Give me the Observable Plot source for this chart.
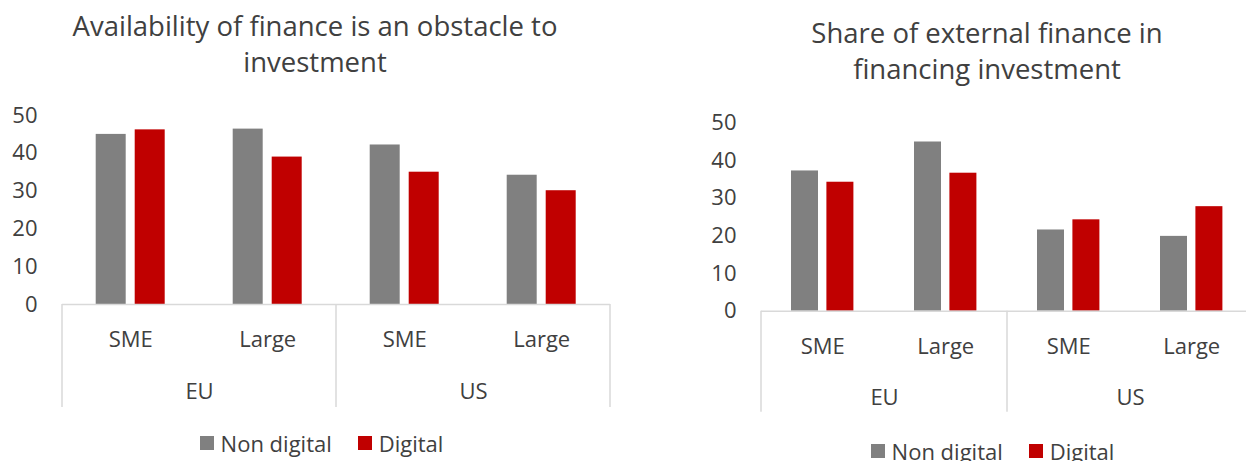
<!DOCTYPE html>
<html>
<head>
<meta charset="utf-8">
<script src="https://cdn.jsdelivr.net/npm/d3@7"></script>
<script src="https://cdn.jsdelivr.net/npm/@observablehq/plot@0.6"></script>
<style>
  html, body { margin: 0; padding: 0; background: #fff; overflow: hidden; width: 1246px; height: 461px; }
  body { position: relative; font-family: "Open Sans", sans-serif; color: #404040; }
  .title { position: absolute; text-align: center; font-size: 27.5px; line-height: 36px; color: #404040; }
  .chart { position: absolute; top: 90px; height: 330px; }
  .chart svg { display: block; max-width: none !important; }
  .legend { position: absolute; display: flex; justify-content: center; align-items: center; font-size: 22px; height: 30px; white-space: nowrap; }
  .legend .item { display: flex; align-items: center; }
  .legend .sw { width: 14px; height: 14px; margin-right: 7px; }
  .legend .item + .item { margin-left: 26px; }
</style>
</head>
<body>
<div class="title" id="t1" style="left:0px; top:8px; width:630px;"></div>
<div class="title" id="t2" style="left:687px; top:15px; width:600px;"></div>
<div class="chart" id="c1" style="left:0px; width:623px;"></div>
<div class="chart" id="c2" style="left:680px; width:574px;"></div>
<div class="legend" id="l1" style="left:0px; top:428px; width:643px;"></div>
<div class="legend" id="l2" style="left:680px; top:436px; width:625px;"></div>
<script>
// ---- data ----
const regions = ["EU", "US"];
const sizes = ["SME", "Large"];
const seriesNames = ["Non digital", "Digital"];
const seriesColors = ["#808080", "#C00000"];
const yTicks = [0, 10, 20, 30, 40, 50];

const title1Lines = ["Availability of finance is an obstacle to", "investment"];
const title2Lines = ["Share of external finance in", "financing investment"];

// order: EU SME, EU Large, US SME, US Large
const obstacleNonDigital = [45.0, 46.4, 42.2, 34.2];
const obstacleDigital    = [46.2, 39.0, 35.0, 30.1];
const externalNonDigital = [37.3, 45.0, 21.6, 19.9];
const externalDigital    = [34.3, 36.7, 24.3, 27.8];

function rows(nonDigital, digital) {
  const out = [];
  [nonDigital, digital].forEach((vals, s) => {
    vals.forEach((v, i) => {
      out.push({region: regions[Math.floor(i / 2)], size: sizes[i % 2], series: seriesNames[s], value: v});
    });
  });
  return out;
}

function makeChart(data, opt) {
  const plot = Plot.plot({
    width: opt.width,
    height: 330,
    marginLeft: opt.marginLeft,
    marginRight: opt.marginRight,
    marginTop: opt.marginTop,
    marginBottom: opt.marginBottom,
    style: {fontFamily: "Open Sans, sans-serif", fontSize: "22px", color: "#404040", background: "transparent", overflow: "visible", maxWidth: "none"},
    fx: {domain: regions, padding: 0, axis: null},
    x: {domain: sizes, padding: 0, axis: null},
    y: {domain: [0, 50], axis: null},
    marks: [
      Plot.axisY({ticks: yTicks, tickSize: 0, tickPadding: 25, fontSize: 22, label: null}),
      Plot.barY(data.filter(d => d.series === seriesNames[0]), {
        fx: "region", x: "size", y: "value", fill: seriesColors[0],
        insetLeft: opt.inset, insetRight: opt.inset, dx: -opt.offset
      }),
      Plot.barY(data.filter(d => d.series === seriesNames[1]), {
        fx: "region", x: "size", y: "value", fill: seriesColors[1],
        insetLeft: opt.inset, insetRight: opt.inset, dx: opt.offset
      }),
      Plot.ruleY([0], {stroke: "#d9d9d9", strokeWidth: 1.5}),
      Plot.axisX({tickSize: 0, tickPadding: 27, fontSize: 22, label: null}),
      Plot.text(regions, {fx: d => d, text: d => d, frameAnchor: "bottom", dy: 94, fontSize: 22})
    ]
  });
  // category separators drawn from the library's fx / y scales
  const fx = plot.scale("fx");
  const y = plot.scale("y");
  const y0 = y.apply(0);
  const xs = regions.map(r => fx.apply(r)).concat([fx.apply(regions[regions.length - 1]) + fx.bandwidth]);
  const svg = d3.select(plot.tagName.toLowerCase() === "svg" ? plot : plot.querySelector("svg"));
  svg.append("g").selectAll("line").data(xs).join("line")
    .attr("x1", d => d).attr("x2", d => d)
    .attr("y1", y0).attr("y2", y0 + opt.sepLength)
    .attr("stroke", "#d9d9d9").attr("stroke-width", 1.5);
  return plot;
}

document.getElementById("t1").innerHTML = title1Lines.join("<br>");
document.getElementById("t2").innerHTML = title2Lines.join("<br>");

document.getElementById("c1").append(makeChart(rows(obstacleNonDigital, obstacleDigital), {
  width: 623, marginLeft: 62.3, marginRight: 12.7, marginTop: 25, marginBottom: 116,
  inset: 53.5, offset: 19.5, sepLength: 103
}));
document.getElementById("c2").append(makeChart(rows(externalNonDigital, externalDigital), {
  width: 574, marginLeft: 80.3, marginRight: 0, marginTop: 32.7, marginBottom: 109.3,
  inset: 48, offset: 17.7, sepLength: 101
}));

function legend(id) {
  const el = document.getElementById(id);
  seriesNames.forEach((name, i) => {
    const item = document.createElement("div");
    item.className = "item";
    const sw = document.createElement("div");
    sw.className = "sw";
    sw.style.background = seriesColors[i];
    const label = document.createElement("span");
    label.textContent = name;
    item.append(sw, label);
    el.append(item);
  });
}
legend("l1");
legend("l2");
</script>
</body>
</html>
